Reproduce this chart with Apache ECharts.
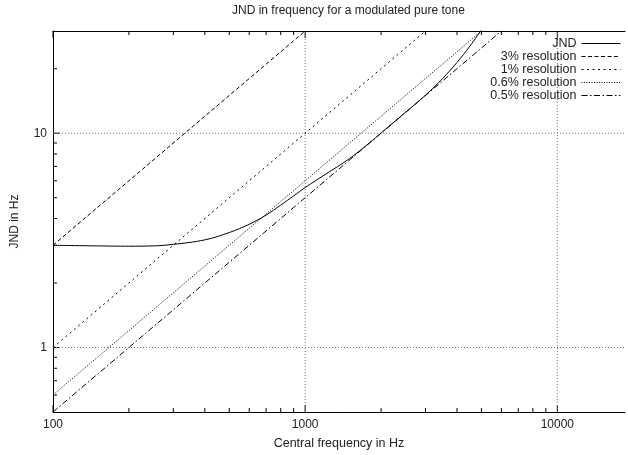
<!DOCTYPE html>
<html>
<head>
<meta charset="utf-8">
<script src="https://cdn.jsdelivr.net/npm/echarts@6/dist/echarts.min.js"></script>
<style>
html,body{margin:0;padding:0;background:#fff;overflow:hidden;}
#chart{width:628px;height:455px;}
</style>
</head>
<body>
<div id="chart"></div>
<script>
// ---- data ----
const jndFreq = [100, 150, 200, 250, 300, 400, 500, 600, 700, 800, 900, 1000, 1200, 1500, 1800, 2000, 2500, 3000, 3500, 4000, 4500, 5000];
const jndVal  = [3.00, 2.98, 2.97, 2.98, 3.03, 3.18, 3.44, 3.76, 4.15, 4.62, 5.10, 5.58, 6.42, 7.62, 9.02, 10.02, 12.52, 15.05, 17.95, 21.4, 25.5, 30.4];
const res3  = [[100, 3],   [1000, 30]];
const res1  = [[100, 1],   [3000, 30]];
const res06 = [[100, 0.6], [5000, 30]];
const res05 = [[100, 0.5], [6000, 30]];
const seriesNames = ['JND', '3% resolution', '1% resolution', '0.6% resolution', '0.5% resolution'];
const xMajorTicks = [100, 1000, 10000];
const xMinorTicks = [200, 300, 400, 500, 600, 700, 800, 900, 2000, 3000, 4000, 5000, 6000, 7000, 8000, 9000];
const yMajorTicks = [1, 10];
const yMinorTicks = [0.6, 0.7, 0.8, 0.9, 2, 3, 4, 5, 6, 7, 8, 9, 20];
const X_MIN = 100, X_MAX = 18550, Y_MIN = 0.5, Y_MAX = 30;

const FONT = 'Liberation Sans';
const TXT = '#222';

const xTickData = xMajorTicks.map(v => [v, Y_MIN, 1]).concat(xMinorTicks.map(v => [v, Y_MIN, 0]));
const yTickData = yMajorTicks.map(v => [X_MIN, v, 1]).concat(yMinorTicks.map(v => [X_MIN, v, 0]));

const chart = echarts.init(document.getElementById('chart'), null, {renderer: 'canvas'});
const pow10 = v => Math.abs(Math.log10(v) - Math.round(Math.log10(v))) < 1e-6;

function lineSeries(name, data, type, extra) {
  return Object.assign({
    name: name, type: 'line', data: data, symbol: 'none', clip: true, z: 3,
    lineStyle: {color: '#000', width: 1, type: type},
    itemStyle: {color: '#000'},
    emphasis: {disabled: true}, animation: false
  }, extra || {});
}

const axisLineStyle = {show: true, lineStyle: {color: '#000', width: 1}};

const option = {
  animation: false,
  title: {
    text: 'JND in frequency for a modulated pure tone',
    left: 232, top: 5, padding: 0,
    textStyle: {fontFamily: FONT, fontSize: 12, fontWeight: 'normal', color: TXT}
  },
  grid: {left: 53, right: 0, top: 31, bottom: 41.5},
  legend: {
    orient: 'vertical', align: 'right', right: 7, top: 37, padding: 0,
    itemWidth: 39, itemHeight: 10, itemGap: 0,
    data: seriesNames,
    itemStyle: {opacity: 0},
    lineStyle: {width: 1},
    textStyle: {fontFamily: FONT, fontSize: 12.5, color: TXT},
    selectedMode: false
  },
  xAxis: [{
    type: 'log', logBase: 10, min: X_MIN, max: X_MAX, position: 'bottom',
    name: 'Central frequency in Hz', nameLocation: 'middle', nameGap: 25,
    nameTextStyle: {fontFamily: FONT, fontSize: 12.5, color: TXT},
    axisLine: axisLineStyle, axisTick: {show: false}, splitLine: {show: false},
    axisLabel: {fontFamily: FONT, fontSize: 12, color: TXT, margin: 7,
      formatter: v => pow10(v) ? String(Math.round(v)) : ''}
  }, {
    type: 'log', logBase: 10, min: X_MIN, max: X_MAX, position: 'top',
    axisLine: axisLineStyle, axisTick: {show: false}, splitLine: {show: false},
    axisLabel: {show: false}
  }],
  yAxis: {
    type: 'log', logBase: 10, min: Y_MIN, max: Y_MAX,
    name: 'JND in Hz', nameLocation: 'middle', nameGap: 32, nameRotate: 90,
    nameTextStyle: {fontFamily: FONT, fontSize: 12, color: TXT},
    axisLine: axisLineStyle, axisTick: {show: false}, splitLine: {show: false},
    axisLabel: {fontFamily: FONT, fontSize: 12, color: TXT, margin: 6,
      formatter: v => pow10(v) ? String(Math.round(v)) : ''}
  },
  series: [
    lineSeries(seriesNames[0], jndFreq.map((f, i) => [f, jndVal[i]]), 'solid', {smooth: 0.4}),
    lineSeries(seriesNames[1], res3, [4, 2.5]),
    lineSeries(seriesNames[2], res1, [2, 3.5]),
    lineSeries(seriesNames[3], res06, [1, 1.5]),
    lineSeries(seriesNames[4], res05, [6, 2.5, 1.5, 2.5]),
    {
      type: 'custom', coordinateSystem: 'cartesian2d', data: xTickData, z: 1, silent: true, clip: false,
      renderItem: function (params, api) {
        const v = api.value(0), major = api.value(2) === 1;
        const b = api.coord([v, Y_MIN]), t = api.coord([v, Y_MAX]);
        const len = major ? 7 : 4;
        const st = {stroke: '#000', lineWidth: 1};
        const ch = [
          {type: 'line', shape: {x1: b[0], y1: b[1], x2: b[0], y2: b[1] - len}, style: st},
          {type: 'line', shape: {x1: t[0], y1: t[1], x2: t[0], y2: t[1] + len}, style: st}
        ];
        if (major && v > X_MIN) {
          ch.push({type: 'line', shape: {x1: b[0], y1: b[1], x2: t[0], y2: t[1]}, style: {stroke: '#777', lineWidth: 1, lineDash: [1, 2]}});
        }
        return {type: 'group', children: ch};
      }
    },
    {
      type: 'custom', coordinateSystem: 'cartesian2d', data: yTickData, z: 1, silent: true, clip: false,
      renderItem: function (params, api) {
        const v = api.value(1), major = api.value(2) === 1;
        const l = api.coord([X_MIN, v]), r = api.coord([X_MAX, v]);
        const len = major ? 7 : 4;
        const st = {stroke: '#000', lineWidth: 1};
        const ch = [
          {type: 'line', shape: {x1: l[0], y1: l[1], x2: l[0] + len, y2: l[1]}, style: st}
        ];
        if (major) {
          ch.push({type: 'line', shape: {x1: l[0], y1: l[1], x2: r[0], y2: r[1]}, style: {stroke: '#777', lineWidth: 1, lineDash: [1, 2]}});
        }
        return {type: 'group', children: ch};
      }
    }
  ]
};
chart.setOption(option);
</script>
</body>
</html>
